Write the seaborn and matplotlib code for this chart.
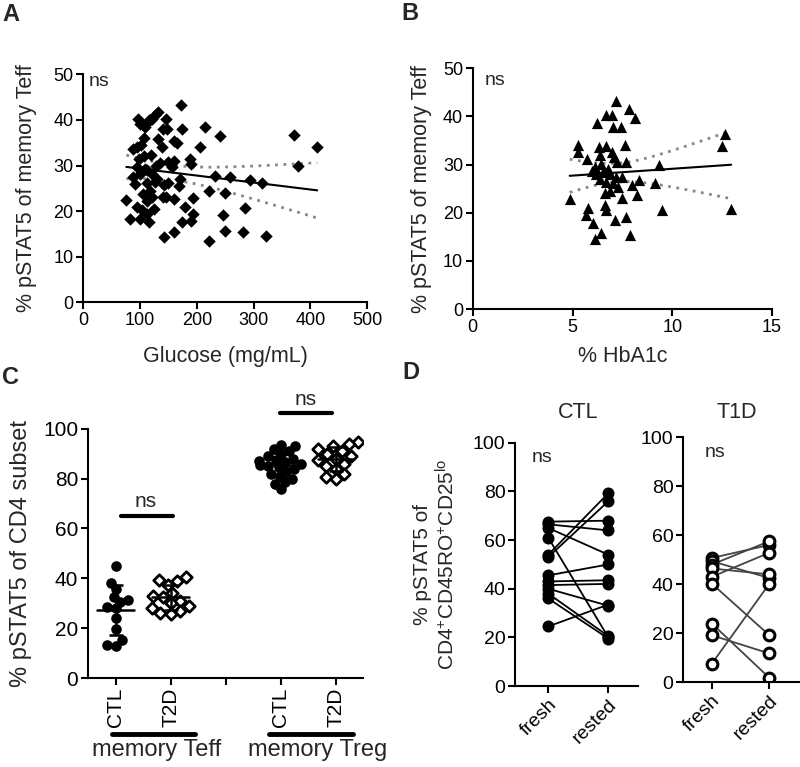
import numpy as np
import pandas as pd
import matplotlib
matplotlib.use("Agg")
import matplotlib.pyplot as plt
import matplotlib.transforms as mtransforms
import seaborn as sns

# ---------------- data ----------------
glucose = [172, 132, 145, 174, 215, 241, 206, 100, 108, 115, 121, 160, 131, 141,
           372, 412, 379, 315, 294, 259, 232, 249, 222, 247, 285, 249, 282, 322,
           221, 193, 193, 190, 174, 159, 143, 180, 159, 140, 188, 189, 171, 168,
           156, 150, 129, 121, 119, 107, 99, 94, 88, 76, 82, 100, 115, 112, 124,
           103, 112, 106, 91, 112, 126, 143, 121, 100, 94, 109, 88, 138, 147, 97,
           106, 126, 118, 107, 130, 95, 118, 150, 160, 102, 113, 135, 146, 165]
pstat_glu = [43.3, 41.7, 40.3, 38.1, 38.4, 36.5, 34.0, 39.2, 38.4, 39.9, 40.3, 35.4, 35.9, 38.1,
             36.7, 34.0, 29.9, 26.1, 26.9, 27.5, 27.7, 23.9, 24.3, 19.2, 20.6, 15.6, 15.5, 14.6,
             13.4, 22.9, 19.4, 17.9, 17.6, 15.4, 14.4, 20.8, 22.7, 23.1, 31.5, 30.4, 27.1, 25.6,
             29.6, 30.7, 30.0, 28.2, 32.4, 32.0, 31.5, 34.0, 33.7, 22.5, 18.3, 18.3, 17.6, 19.4, 20.5,
             20.3, 22.3, 23.8, 26.0, 26.1, 26.4, 25.8, 23.1, 28.2, 29.6, 29.3, 27.5, 34.0, 38.1, 40.3,
             38.8, 41.0, 39.9, 36.0, 27.0, 21.0, 24.5, 26.2, 31.0, 34.5, 29.0, 30.5, 23.0, 35.0]

hba1c = [7.17, 7.84, 8.13, 6.67, 6.96, 6.23, 7.04, 7.41, 5.25, 5.25, 5.75, 6.34, 6.66, 7.0,
         7.63, 6.37, 6.12, 6.45, 7.22, 7.68, 5.98, 6.2, 6.53, 6.87, 7.2, 7.5, 6.7, 7.04,
         7.29, 7.96, 8.35, 8.21, 6.62, 7.46, 4.86, 5.78, 5.7, 6.62, 6.7, 6.03, 7.14, 7.68,
         6.45, 6.12, 7.88, 9.35, 9.14, 9.47, 12.65, 12.5, 12.95, 6.8, 6.4, 7.1, 6.9]
pstat_hba = [43.3, 41.6, 39.7, 40.2, 40.2, 38.6, 37.8, 37.9, 34.1, 32.6, 31.2, 33.7, 33.9, 32.6,
             34.0, 32.0, 29.5, 30.2, 30.6, 30.6, 28.6, 28.1, 28.5, 28.1, 27.4, 27.4, 26.4, 26.1,
             25.4, 25.7, 26.8, 23.7, 24.0, 23.0, 22.8, 20.9, 19.5, 21.6, 20.6, 17.8, 18.5, 19.2,
             15.7, 14.5, 15.4, 29.9, 26.1, 20.6, 36.3, 33.9, 20.8, 29.0, 27.0, 31.5, 24.5]

c_categories = ["CTL_Teff", "T2D_Teff", "gap", "CTL_Treg", "T2D_Treg"]
c_ticklabels = ["CTL", "T2D", "", "CTL", "T2D"]
ctl_teff = [45.0, 38.3, 35.7, 32.6, 31.2, 30.6, 28.6, 27.9, 23.9, 19.8, 15.1, 12.9, 13.1]
t2d_teff = [40.6, 39.3, 39.0, 37.5, 34.0, 33.0, 32.5, 31.0, 30.0, 29.0, 28.0, 27.0, 26.0, 25.5]
ctl_treg = [93.5, 93.0, 92.0, 91.0, 90.0, 89.0, 88.0, 87.5, 87.0, 86.5, 86.0, 85.5, 85.0,
            84.5, 84.0, 83.0, 82.0, 81.0, 80.0, 78.5, 78.0, 75.7]
t2d_treg = [94.6, 94.0, 93.0, 92.0, 91.0, 90.0, 89.0, 88.0, 87.5, 86.0, 85.0, 84.0, 82.0, 80.5, 80.0]

d_conditions = ["fresh", "rested"]
ctl_fresh = [67.6, 66.5, 65.0, 61.0, 54.0, 53.0, 45.5, 43.0, 41.5, 40.0, 38.0, 36.0, 24.5]
ctl_rested = [68.0, 64.0, 54.0, 20.0, 79.3, 76.0, 50.0, 43.5, 42.0, 33.0, 20.5, 19.5, 33.5]
t1d_fresh = [50.7, 49.4, 48.0, 46.4, 43.0, 40.2, 23.9, 19.1, 7.5]
t1d_rested = [56.0, 42.5, 57.5, 44.0, 52.8, 19.2, 1.8, 11.7, 40.0]

# ---------------- style ----------------
sns.set_style("ticks")
plt.rcParams["font.family"] = ["Liberation Sans", "DejaVu Sans"]
plt.rcParams["mathtext.fontset"] = "custom"
plt.rcParams["mathtext.rm"] = "Liberation Sans"
plt.rcParams["mathtext.default"] = "regular"
plt.rcParams["axes.linewidth"] = 1.5
plt.rcParams["xtick.major.width"] = 1.5
plt.rcParams["ytick.major.width"] = 1.5
plt.rcParams["xtick.major.size"] = 5
plt.rcParams["ytick.major.size"] = 5
plt.rcParams["axes.edgecolor"] = "black"
plt.rcParams["xtick.color"] = "black"
plt.rcParams["ytick.color"] = "black"

fig = plt.figure(figsize=(8, 7.67), dpi=100)

def style_ax(ax, tsize):
    sns.despine(ax=ax)
    ax.tick_params(labelsize=tsize, pad=2)

def fit_band(ax, x, y):
    x = np.asarray(x, float); y = np.asarray(y, float)
    n = len(x)
    b, a = np.polyfit(x, y, 1)
    xs = np.linspace(x.min(), x.max(), 100)
    yh = a + b * xs
    res = y - (a + b * x)
    s = np.sqrt(np.sum(res ** 2) / (n - 2))
    sxx = np.sum((x - x.mean()) ** 2)
    se = s * np.sqrt(1.0 / n + (xs - x.mean()) ** 2 / sxx)
    t = 1.99
    for sign in (1, -1):
        ax.plot(xs, yh + sign * t * se, color="#888888", lw=2,
                ls=(0, (1, 2)), zorder=1)

# ---------------- Panel A ----------------
axA = fig.add_axes([0.104, 0.606, 0.355, 0.297])
dfA = pd.DataFrame({"glucose": glucose, "pstat": pstat_glu})
sns.scatterplot(data=dfA, x="glucose", y="pstat", marker="D", s=40,
                color="black", edgecolor="black", linewidth=0, ax=axA, zorder=2)
fit_band(axA, glucose, pstat_glu)
sns.regplot(data=dfA, x="glucose", y="pstat", scatter=False, ci=None,
            color="black", line_kws=dict(lw=1.5), ax=axA)
axA.set_xlim(0, 500); axA.set_ylim(0, 50)
axA.set_xticks([0, 100, 200, 300, 400, 500]); axA.set_yticks([0, 10, 20, 30, 40, 50])
axA.set_xlabel("Glucose (mg/mL)", fontsize=15.5, labelpad=12)
axA.set_ylabel("% pSTAT5 of memory Teff", fontsize=15.5, labelpad=12)
axA.text(10, 48.5, "ns", fontsize=14, ha="left", va="center")
style_ax(axA, 13)

# ---------------- Panel B ----------------
axB = fig.add_axes([0.591, 0.597, 0.374, 0.314])
dfB = pd.DataFrame({"hba1c": hba1c, "pstat": pstat_hba})
sns.scatterplot(data=dfB, x="hba1c", y="pstat", marker="^", s=65,
                color="black", edgecolor="black", linewidth=0, ax=axB, zorder=2)
fit_band(axB, hba1c, pstat_hba)
sns.regplot(data=dfB, x="hba1c", y="pstat", scatter=False, ci=None,
            color="black", line_kws=dict(lw=1.5), ax=axB)
axB.set_xlim(0, 15); axB.set_ylim(0, 50)
axB.set_xticks([0, 5, 10, 15]); axB.set_yticks([0, 10, 20, 30, 40, 50])
axB.set_xlabel("% HbA1c", fontsize=15.5, labelpad=7)
axB.set_ylabel("% pSTAT5 of memory Teff", fontsize=15.5, labelpad=8)
axB.text(0.6, 47.5, "ns", fontsize=14, ha="left", va="center")
style_ax(axB, 13)

# ---------------- Panel C ----------------
axC = fig.add_axes([0.11, 0.116, 0.344, 0.325])
dfC = pd.concat([
    pd.DataFrame({"group": "CTL_Teff", "value": ctl_teff, "kind": "CTL"}),
    pd.DataFrame({"group": "T2D_Teff", "value": t2d_teff, "kind": "T2D"}),
    pd.DataFrame({"group": "CTL_Treg", "value": ctl_treg, "kind": "CTL"}),
    pd.DataFrame({"group": "T2D_Treg", "value": t2d_treg, "kind": "T2D"}),
], ignore_index=True)
n_before = len(axC.collections)
sns.swarmplot(data=dfC[dfC.kind == "CTL"], x="group", y="value", order=c_categories,
              color="black", size=5.8, ax=axC, zorder=2)
n_mid = len(axC.collections)
sns.swarmplot(data=dfC[dfC.kind == "T2D"], x="group", y="value", order=c_categories,
              color="white", edgecolor="black", linewidth=2, marker="D", size=5.0,
              ax=axC, zorder=2)
n_after = len(axC.collections)
axC.set_xlim(-0.5, 4.5); axC.set_ylim(0, 100)
# lay out the swarm compactly, then enlarge markers so they overlap like Prism
fig.canvas.draw()
for k, coll in enumerate(axC.collections[n_before:n_after]):
    coll.__dict__.pop("draw", None)
    if k < n_mid - n_before:
        coll.set_sizes([58])
    else:
        coll.set_sizes([34])

for i, g in enumerate(c_categories):
    vals = dfC.loc[dfC.group == g, "value"].to_numpy()
    if len(vals) == 0:
        continue
    m, sd = vals.mean(), vals.std(ddof=1)
    axC.plot([i - 0.33, i + 0.33], [m, m], color="black", lw=1.8, zorder=3)
    axC.errorbar([i], [m], yerr=[sd], color="black", lw=1.8, capsize=5,
                 capthick=1.8, zorder=3)
axC.set_xlim(-0.5, 4.5); axC.set_ylim(0, 100)
axC.set_yticks([0, 20, 40, 60, 80, 100])
axC.set_xticks(range(5))
axC.set_xticklabels(c_ticklabels, rotation=90, fontsize=15)
axC.set_xlabel("")
axC.set_ylabel("% pSTAT5 of CD4 subset", fontsize=17, labelpad=8)
axC.plot([0.1, 1.05], [65, 65], color="black", lw=3, clip_on=False)
axC.text(0.55, 67, "ns", fontsize=15, ha="center", va="bottom")
axC.plot([2.98, 3.93], [106.3, 106.3], color="black", lw=3, clip_on=False)
axC.text(3.45, 108, "ns", fontsize=15, ha="center", va="bottom", clip_on=False)
trC = mtransforms.blended_transform_factory(axC.transData, axC.transAxes)
axC.plot([-0.07, 1.45], [-0.225, -0.225], color="black", lw=3.5,
         transform=trC, clip_on=False)
axC.plot([2.78, 4.31], [-0.225, -0.225], color="black", lw=3.5,
         transform=trC, clip_on=False)
axC.text(0.75, -0.245, "memory Teff", fontsize=17, ha="center", va="top", transform=trC)
axC.text(3.67, -0.245, "memory Treg", fontsize=17, ha="center", va="top", transform=trC)
style_ax(axC, 15)

# ---------------- Panel D ----------------
def paired(ax, fresh, rested, filled, line_color):
    n = len(fresh)
    df = pd.DataFrame({
        "subject": list(range(n)) * 2,
        "cond": [0] * n + [1] * n,
        "value": list(fresh) + list(rested),
    })
    sns.lineplot(data=df, x="cond", y="value", units="subject", estimator=None,
                 color=line_color, lw=1.3, ax=ax, zorder=1)
    if filled:
        sns.scatterplot(data=df, x="cond", y="value", s=75, color="black",
                        edgecolor="black", linewidth=0, ax=ax, zorder=2)
    else:
        sns.scatterplot(data=df, x="cond", y="value", s=60, facecolor="white",
                        edgecolor="black", linewidth=2.2, ax=ax, zorder=2)
    ax.set_ylim(0, 100)
    ax.set_yticks([0, 20, 40, 60, 80, 100])
    ax.set_xticks([0, 1])
    ax.set_xticklabels(d_conditions, rotation=45, ha="right", va="top",
                       rotation_mode="anchor", fontsize=14)
    ax.set_xlabel("")
    style_ax(ax, 14)
    ax.tick_params(axis="x", labelsize=14)

axD1 = fig.add_axes([0.644, 0.1056, 0.154, 0.317])
paired(axD1, ctl_fresh, ctl_rested, True, "black")
axD1.set_xlim(-0.55, 1.5)
axD1.set_ylabel("% pSTAT5 of\nCD4$^{+}$CD45RO$^{+}$CD25$^{lo}$", fontsize=15, labelpad=10)
axD1.text(-0.1, 94, "ns", fontsize=14, ha="center", va="center")

axD2 = fig.add_axes([0.854, 0.1108, 0.146, 0.319])
paired(axD2, t1d_fresh, t1d_rested, False, "#444444")
axD2.set_xlim(-0.5, 1.54)
axD2.set_ylabel("")
axD2.text(0.05, 94, "ns", fontsize=14, ha="center", va="center")

fig.text(578 / 800, 1 - 413 / 767, "CTL", fontsize=15.5, ha="center", va="center")
fig.text(737 / 800, 1 - 413 / 767, "T1D", fontsize=15.5, ha="center", va="center")

# panel letters
for lab, xp, yp in [("A", 2, 3), ("B", 401, 2), ("C", 2, 366), ("D", 402, 361)]:
    fig.text(xp / 800, 1 - yp / 767, lab, fontsize=17, fontweight="bold",
             ha="left", va="top")

fig.savefig("out.png", dpi=100)
